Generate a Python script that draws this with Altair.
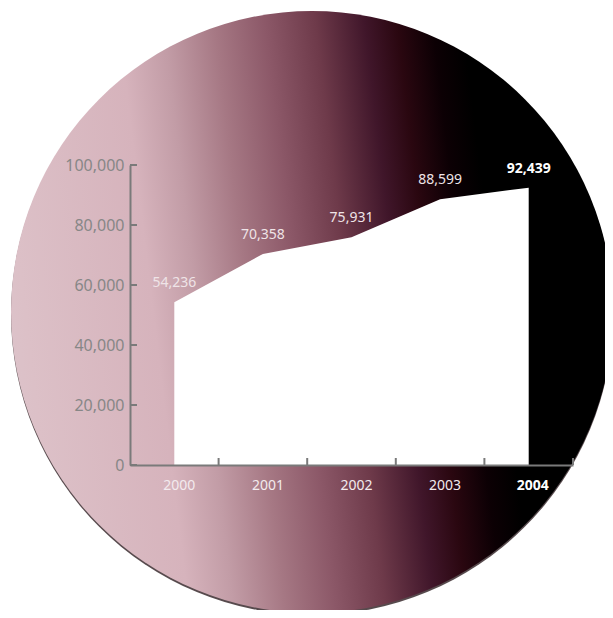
import altair as alt
import pandas as pd

# ---- data ----
years = [2000, 2001, 2002, 2003, 2004]
values = [54236, 70358, 75931, 88599, 92439]
value_labels = ["54,236", "70,358", "75,931", "88,599", "92,439"]
is_last = [False, False, False, False, True]
y_ticks = [0, 20000, 40000, 60000, 80000, 100000]
x_tick_bounds = [2000.5, 2001.5, 2002.5, 2003.5, 2004.5]

W, H = 443, 300
FONT = "Noto Sans"
AXIS_GRAY = "#7a7a7a"

df = pd.DataFrame({"year": years, "value": values, "label": value_labels,
                   "last": is_last, "ylabel": [str(y) for y in years]})
ytick_df = pd.DataFrame({"value": y_ticks})
xtick_df = pd.DataFrame({"year": x_tick_bounds})
bg_df = pd.DataFrame({"k": [1]})

xscale = alt.Scale(domain=[1999.5, 2004.5], nice=False, zero=False)
yscale = alt.Scale(domain=[0, 100000], nice=False)

XAXIS = alt.Axis(labels=False, ticks=False, grid=False, title=None, zindex=2,
                 domain=True, domainColor=AXIS_GRAY, domainWidth=2)
YAXIS = alt.Axis(values=y_ticks, labelExpr="format(datum.value, ',.0f')",
                 ticks=False, grid=False, title=None, zindex=2,
                 domain=True, domainColor=AXIS_GRAY, domainWidth=2,
                 labelColor="#878787", labelFont=FONT, labelFontSize=16,
                 labelPadding=6)

X = alt.X("year:Q", scale=xscale, axis=XAXIS)
Y = alt.Y("value:Q", scale=yscale, axis=YAXIS)

gradient = {
    "gradient": "linear",
    "x1": 0, "y1": 0.56, "x2": 1, "y2": 0.44,
    "stops": [
        {"offset": 0.0, "color": "#dcc2c9"},
        {"offset": 0.03, "color": "#dcc0c7"},
        {"offset": 0.24, "color": "#d6b3bc"},
        {"offset": 0.314, "color": "#c29ca6"},
        {"offset": 0.397, "color": "#a67884"},
        {"offset": 0.48, "color": "#8c5868"},
        {"offset": 0.563, "color": "#6e3a4a"},
        {"offset": 0.643, "color": "#40162a"},
        {"offset": 0.696, "color": "#2a0710"},
        {"offset": 0.754, "color": "#0c0004"},
        {"offset": 0.804, "color": "#000000"},
        {"offset": 1.0, "color": "#000000"},
    ],
}

CIRCLE_SIZE = 602 ** 2

shadow = alt.Chart(bg_df).mark_point(
    shape="circle", size=CIRCLE_SIZE, filled=True, fill="#3a2a2e",
    opacity=0.85, strokeWidth=0
).encode(x=alt.value(182), y=alt.value(149))

circle = alt.Chart(bg_df).mark_point(
    shape="circle", size=CIRCLE_SIZE, filled=True, fill=gradient,
    opacity=1, strokeWidth=0
).encode(x=alt.value(182), y=alt.value(147))

area = alt.Chart(df).mark_area(color="white", opacity=1, interpolate="linear").encode(
    x=X, y=Y,
)

ytick_rules = alt.Chart(ytick_df).mark_rule(color=AXIS_GRAY, strokeWidth=2).encode(
    y=Y, x=alt.value(0), x2=alt.value(7),
)

xtick_rules = alt.Chart(xtick_df).mark_rule(color=AXIS_GRAY, strokeWidth=2).encode(
    x=X, y=alt.value(H), y2=alt.value(H - 7),
)

val_norm = alt.Chart(df).transform_filter("!datum.last").mark_text(
    font=FONT, fontSize=14, color="#efe4e7", align="center", baseline="alphabetic", dy=-15
).encode(x=X, y=Y, text="label:N")

val_bold = alt.Chart(df).transform_filter("datum.last").mark_text(
    font=FONT, fontSize=14, fontWeight="bold", color="white", align="center",
    baseline="alphabetic", dy=-15
).encode(x=X, y=Y, text="label:N")

yr_norm = alt.Chart(df).transform_filter("!datum.last").mark_text(
    font=FONT, fontSize=14, color="#f3ebee", align="center", baseline="alphabetic", dx=5
).encode(x=X, y=alt.value(325), text="ylabel:N")

yr_bold = alt.Chart(df).transform_filter("datum.last").mark_text(
    font=FONT, fontSize=14, fontWeight="bold", color="white", align="center",
    baseline="alphabetic", dx=4
).encode(x=X, y=alt.value(325), text="ylabel:N")

chart = alt.layer(
    shadow, circle, area, ytick_rules, xtick_rules, val_norm, val_bold, yr_norm, yr_bold
).properties(
    width=W, height=H,
    autosize=alt.AutoSizeParams(type="none"),
    padding={"left": 122, "top": 157, "right": 32, "bottom": 145},
    background="white",
).configure_view(stroke=None)

chart.save("out.html", embed_options={"renderer": "svg", "actions": False})
